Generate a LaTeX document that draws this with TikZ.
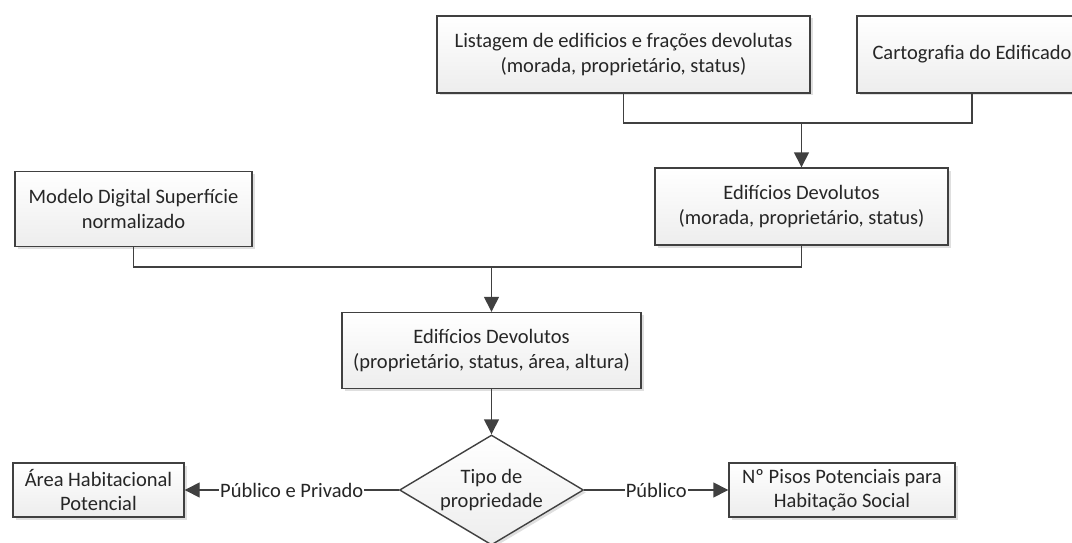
\documentclass[tikz,border=0pt]{standalone}
\usepackage{fontspec}
\setmainfont{Carlito}
\usetikzlibrary{arrows.meta,shapes.geometric,shadows}
\definecolor{linegray}{HTML}{404040}
\definecolor{textgray}{HTML}{262626}
\newcommand{\boxfont}{\fontsize{20.5}{24.5}\selectfont}
\tikzset{
  procbox/.style  = {draw=linegray,line width=1.4pt,top color=white,bottom color=gray!14,
                     drop shadow={shadow xshift=2.5pt,shadow yshift=-2.5pt,opacity=.25},
                     align=center,inner sep=2pt,text=textgray,font=\boxfont},
  decbox/.style   = {procbox,diamond,aspect=1.67,inner sep=0pt},
  flowline/.style = {line width=1.4pt,linegray},
  flowarr/.style  = {flowline,-{Triangle[length=15pt,width=15pt]}},
  branch/.style   = {fill=white,font=\boxfont,text=textgray,inner sep=1pt}
}

\begin{document}
\begin{tikzpicture}[x=1pt,y=-1pt]
  \useasboundingbox (0,0) rectangle (1072,543);
  \clip (0,0) rectangle (1072,543);
  % sources
  \node[procbox,minimum width=373pt,minimum height=77pt] (lista) at (623.5,54.5)
    {Listagem de edificios e frações devolutas\\(morada, proprietário, status)};
  \node[procbox,minimum width=230pt,minimum height=77pt] (carto) at (972,54.5)
    {Cartografia do Edificado};
  \node[procbox,minimum width=237pt,minimum height=75pt] (mds) at (133.5,209)
    {Modelo Digital Superfície\\normalizado};
  % intermediate results
  \node[procbox,minimum width=293pt,minimum height=77pt] (devA) at (801.5,206.5)
    {Edifícios Devolutos\\(morada, proprietário, status)};
  \node[procbox,minimum width=299pt,minimum height=76pt] (devB) at (491.5,350.5)
    {Edifícios Devolutos\\(proprietário, status, área, altura)};
  \node[decbox,minimum width=184pt,minimum height=110pt] (tipo) at (491.5,490)
    {Tipo de\\propriedade};
  % outputs
  \node[procbox,minimum width=171pt,minimum height=54pt] (area) at (98.5,490)
    {Área Habitacional\\Potencial};
  \node[procbox,minimum width=226pt,minimum height=54pt] (pisos) at (842,490)
    {Nº Pisos Potenciais para\\Habitação Social};

  \coordinate (j1) at (801.5,123);
  \coordinate (j2) at (491.5,267);
  \draw[flowline] (lista.south) |- (j1) -| (carto.south);
  \draw[flowarr] (j1) -- (devA.north);
  \draw[flowline] (mds.south) |- (j2) -| (devA.south);
  \draw[flowarr] (j2) -- (devB.north);
  \draw[flowarr] (devB.south) -- (tipo.north);
  \draw[flowarr] (tipo.west) -- node[branch] {Público e Privado} (area.east);
  \draw[flowarr] (tipo.east) -- node[branch] {Público} (pisos.west);
\end{tikzpicture}
\end{document}
